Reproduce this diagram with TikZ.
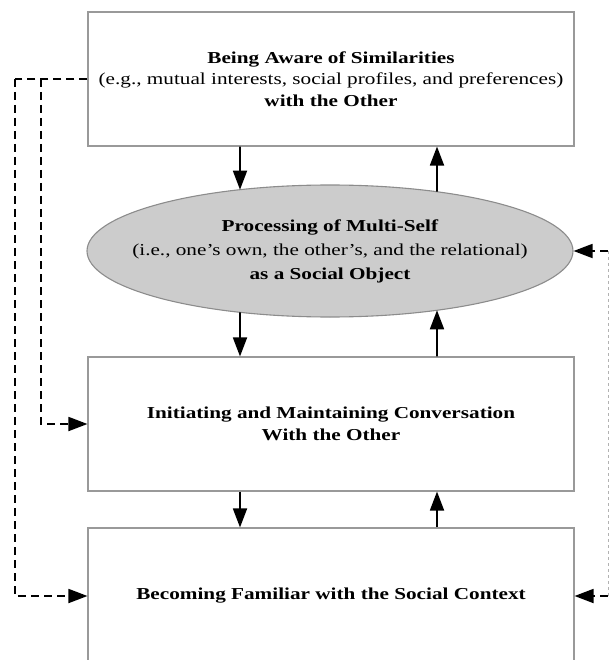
\documentclass[tikz,border=0pt]{standalone}
\usepackage{fontspec}
\setmainfont[FakeStretch=1.27]{Liberation Serif}
\usetikzlibrary{shapes.geometric,arrows.meta,intersections}
\begin{document}
\begin{tikzpicture}[x=1pt,y=-1pt,
  stage/.style={draw=black!40, line width=1.1pt, fill=white, inner sep=0pt,
    minimum width=486pt, minimum height=134pt, align=center,
    font=\fontsize{16.7}{21.5}\selectfont},
  core/.style={ellipse, draw=black!45, line width=1.1pt, fill=black!20,
    inner xsep=-30pt, inner ysep=0pt,
    minimum width=486pt, minimum height=132pt, align=center,
    font=\fontsize{16.7}{24}\selectfont},
  flow/.style={line width=1.8pt, -{Triangle[length=19pt,width=14pt]}},
  feedback/.style={line width=1.8pt, dash pattern=on 8pt off 5pt},
  fbarrow/.style={feedback, -{Triangle[length=19pt,width=14pt]}}]
\useasboundingbox (0,0) rectangle (612,660);

% the four levels
\node[stage] (aware) at (331,79) {\textbf{Being Aware of Similarities}\\
  (e.g., mutual interests, social profiles, and preferences)\\
  \textbf{with the Other}};
\node[core, name path=rim] (self) at (330,251) {\textbf{Processing of Multi-Self}\\
  (i.e., one's own, the other's, and the relational)\\
  \textbf{as a Social Object}};
\node[stage] (talk) at (331,424) {\textbf{Initiating and Maintaining Conversation}\\
  \textbf{With the Other}};
\node[stage, minimum height=136pt] (context) at (331,596)
  {\textbf{Becoming Familiar with the Social Context}};

% where the two vertical link lines meet the ellipse
\path[name path=vdn] (240,150) -- (240,350);
\path[name path=vup] (437,150) -- (437,350);
\path[name intersections={of=rim and vdn, sort by=vdn, name=pd}];
\path[name intersections={of=rim and vup, sort by=vup, name=pu}];
\coordinate (dn) at (240,0);
\coordinate (up) at (437,0);

% two-way links between neighbouring levels
\draw[flow] (aware.south -| dn) -- (pd-1);
\draw[flow] (pu-1) -- (aware.south -| up);
\draw[flow] (pd-2) -- (talk.north -| dn);
\draw[flow] (talk.north -| up) -- (pu-2);
\draw[flow] (talk.south -| dn) -- (context.north -| dn);
\draw[flow] (context.north -| up) -- (talk.south -| up);

% feedback on the left
\coordinate (lo) at (15,79);
\coordinate (li) at (41,79);
\draw[feedback] (aware.west) -- (lo);
\draw[fbarrow] (lo) |- (context.west);
\draw[fbarrow] (li) |- (talk.west);

% feedback on the right
\coordinate (ra) at (608,251);
\coordinate (rb) at (608,596);
\draw[line width=0.8pt, black!30, dash pattern=on 3pt off 3pt] (ra) -- (rb);
\draw[fbarrow] (ra) -- (self.east);
\draw[fbarrow] (rb) -- (context.east);
\end{tikzpicture}
\end{document}
